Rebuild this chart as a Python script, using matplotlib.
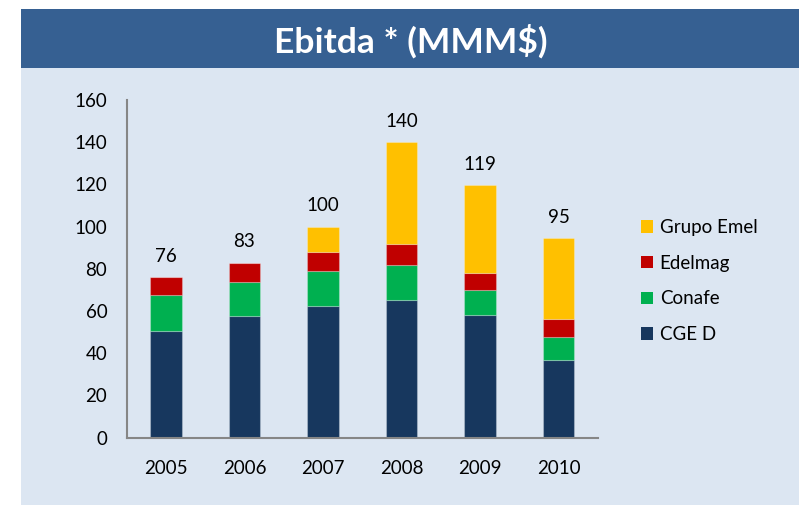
import numpy as np
from matplotlib import pyplot as plt
from matplotlib.patches import Rectangle, Patch

plt.rcParams['font.family'] = ['Lato', 'DejaVu Sans']

years = ['2005', '2006', '2007', '2008', '2009', '2010']
cge_d = [50.5, 57.5, 62.5, 65, 58, 37]
conafe = [17, 16.5, 16.5, 17, 12, 10.5]
edelmag = [8.5, 9, 9, 10, 8, 8.5]
grupo_emel = [0, 0, 12, 48, 41.5, 38.5]
totals = [76, 83, 100, 140, 119, 95]

series = [("CGE D", cge_d, "#17375e"),
          ("Conafe", conafe, "#00b050"),
          ("Edelmag", edelmag, "#c00000"),
          ("Grupo Emel", grupo_emel, "#ffc000")]

fig = plt.figure(figsize=(7.99, 5.05), dpi=100)
fig.patch.set_facecolor("white")

# background panel and title banner
fig.patches.append(Rectangle((0.0263, 0), 0.9737, 0.866, transform=fig.transFigure,
                             facecolor="#dce6f2", edgecolor="none", zorder=-10))
fig.patches.append(Rectangle((0.0263, 0.865), 0.9737, 0.117, transform=fig.transFigure,
                             facecolor="#366092", edgecolor="none", zorder=-10))
fig.text(0.514, 0.918, "Ebitda * (MMM$)", color="white", fontsize=25.5,
         fontweight="bold", ha="center", va="center")

ax = fig.add_axes([0.1586, 0.1333, 0.5895, 0.6687])
ax.set_facecolor("none")
ax.set_zorder(2)

x = np.arange(len(years))
bottom = np.zeros(len(years))
for name, vals, color in series:
    vals = np.array(vals, dtype=float)
    ax.bar(x, vals, width=0.4, bottom=bottom, color=color, label=name,
           edgecolor=(1, 1, 1, 0.25), linewidth=0.8)
    bottom += vals

for i, t in enumerate(totals):
    ax.text(x[i], bottom[i] + 10, str(t), ha="center", va="center", fontsize=13.5)

ax.set_xlim(-0.5, 5.5)
ax.set_ylim(0, 160)
ax.set_yticks(np.arange(0, 161, 20))
ax.set_xticks(x)
ax.set_xticklabels(years)
ax.tick_params(axis="both", length=0, labelsize=13.5)
ax.tick_params(axis="x", pad=16)
ax.tick_params(axis="y", pad=14)
for s in ["top", "right"]:
    ax.spines[s].set_visible(False)
for s in ["left", "bottom"]:
    ax.spines[s].set_color("#868686")
    ax.spines[s].set_linewidth(1.5)

handles = [Patch(facecolor=c, label=n) for n, v, c in series][::-1]
fig.legend(handles=handles, loc="upper left", bbox_to_anchor=(0.781, 0.6),
           frameon=False, fontsize=13.5, handlelength=0.65, handleheight=0.65,
           handletextpad=0.35, labelspacing=1.0)

plt.savefig("out.png", dpi=100)
